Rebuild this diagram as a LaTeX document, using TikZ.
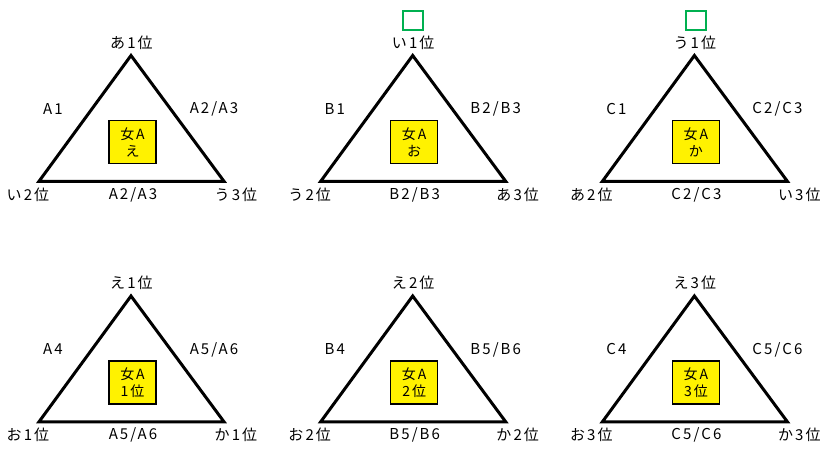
\documentclass[tikz,border=0pt]{standalone}
\usepackage{fontspec}
\setmainfont{Noto Sans CJK JP}[LetterSpace=14]
\begin{document}
\begin{tikzpicture}[x=1pt,y=-1pt,
  lbl/.style={inner sep=0pt,font=\fontsize{15}{17}\selectfont},
  tri/.style={draw=black,line width=3pt,line join=miter},
  ybox/.style={draw=black,line width=1.5pt,fill=yellow,minimum width=47pt,minimum height=43pt,inner sep=0pt,align=center,font=\fontsize{14}{17}\selectfont},
  gbox/.style={draw=grn,line width=1.6pt,minimum width=20pt,minimum height=19pt,inner sep=0pt}]
\useasboundingbox[fill=white] (0,0) rectangle (820,454);
\definecolor{grn}{RGB}{0,176,80}
\newcommand\mytri[9]{%
  \begin{scope}[shift={({#1*281.7},{#2*240.5})}]
    \coordinate (t#1#2) at (131,55.5);
    \coordinate (l#1#2) at (39,181.3);
    \coordinate (r#1#2) at (224,181.3);
    \draw[tri] (t#1#2) -- (l#1#2) -- (r#1#2) -- cycle;
    \node[lbl] (ta#1#2) at (131.5,42.5) {#3};
    \node[lbl] (la#1#2) at (28,194.5) {#4};
    \node[lbl] (ra#1#2) at (236,194.5) {#5};
    \node[lbl] (sl#1#2) at (53,109) {#6};
    \node[lbl] (sr#1#2) at (214,109) {#7};
    \node[lbl] (bm#1#2) at (133,194.5) {#8};
    \node[ybox] (bx#1#2) at (132.5,142) {女A\\#9};
  \end{scope}}
\mytri{0}{0}{あ1位}{い2位}{う3位}{A1}{A2/A3}{A2/A3}{え}
\mytri{1}{0}{い1位}{う2位}{あ3位}{B1}{B2/B3}{B2/B3}{お}
\mytri{2}{0}{う1位}{あ2位}{い3位}{C1}{C2/C3}{C2/C3}{か}
\mytri{0}{1}{え1位}{お1位}{か1位}{A4}{A5/A6}{A5/A6}{1位}
\mytri{1}{1}{え2位}{お2位}{か2位}{B4}{B5/B6}{B5/B6}{2位}
\mytri{2}{1}{え3位}{お3位}{か3位}{C4}{C5/C6}{C5/C6}{3位}
\node[gbox] (g1) at (412.7,20.7) {};
\node[gbox] (g2) at (696.2,20.5) {};
\end{tikzpicture}
\end{document}
